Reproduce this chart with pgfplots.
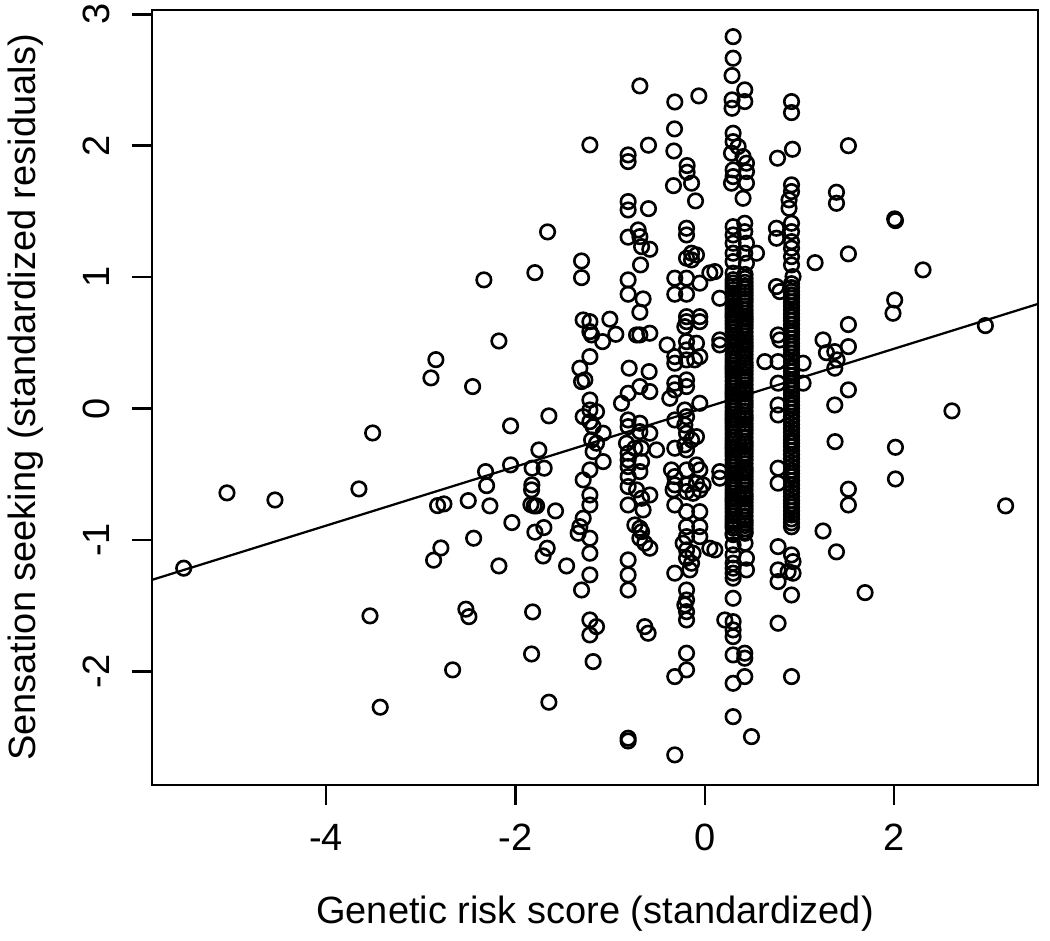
\documentclass[border=0pt]{standalone}
\usepackage{fontspec}
\setmainfont{Liberation Sans}
\usepackage{pgfplots}
\usepackage{pgfplotstable}
\pgfplotsset{compat=1.18}
\pgfplotstableread{
x y
-1.661 1.344
-1.795 1.034
-2.334 0.979
-2.175 0.514
-2.841 0.372
-2.893 0.233
-2.453 0.167
-1.647 -0.056
-2.052 -0.132
-3.509 -0.186
-1.753 -0.315
-2.052 -0.429
-2.316 -0.480
-1.824 -0.454
-1.697 -0.454
-2.305 -0.587
-1.827 -0.581
-1.830 -0.619
-5.048 -0.642
-4.541 -0.696
-3.654 -0.612
-2.823 -0.739
-2.756 -0.726
-2.499 -0.701
-2.270 -0.741
-1.837 -0.731
-1.803 -0.741
-1.777 -0.741
-1.577 -0.779
-2.038 -0.868
-1.700 -0.906
-1.795 -0.941
-2.442 -0.987
-2.788 -1.061
-1.665 -1.063
-1.708 -1.122
-2.865 -1.154
-2.175 -1.198
-1.460 -1.198
-5.505 -1.215
-3.537 -1.578
-2.524 -1.527
-2.492 -1.584
-1.819 -1.548
-1.830 -1.868
-2.664 -1.989
-1.647 -2.235
-3.429 -2.273
1.517 2.000
1.391 1.646
1.391 1.562
2.006 1.443
2.014 1.430
1.165 1.110
1.517 1.177
2.305 1.055
2.006 0.826
1.988 0.725
1.517 0.639
1.249 0.522
1.517 0.471
1.285 0.425
1.373 0.433
1.397 0.370
1.373 0.307
2.964 0.631
1.517 0.142
1.373 0.027
2.611 -0.018
1.376 -0.252
2.014 -0.295
2.014 -0.536
1.517 -0.614
1.517 -0.734
3.178 -0.741
1.249 -0.932
1.391 -1.091
1.693 -1.401
-0.686 2.455
-0.317 2.333
-0.063 2.379
-0.320 2.128
-1.214 2.006
-0.810 1.930
-0.810 1.879
-0.595 2.004
-0.327 1.960
-0.187 1.849
-0.187 1.798
-0.140 1.715
-0.331 1.696
-0.098 1.580
-0.810 1.575
-0.810 1.511
-0.595 1.521
-0.704 1.359
-0.686 1.308
-0.810 1.304
-0.668 1.232
-0.581 1.212
-0.193 1.372
-0.193 1.321
-0.140 1.182
-0.088 1.169
-0.193 1.144
-0.140 1.131
-1.302 1.123
-1.302 0.996
-0.679 1.093
-0.810 0.979
-0.810 0.870
-0.652 0.834
-0.686 0.733
-0.317 0.992
-0.193 0.992
-0.053 0.954
-0.317 0.870
-0.193 0.870
-1.285 0.674
-1.214 0.661
-1.214 0.585
-1.196 0.560
-1.003 0.680
-0.940 0.565
-1.080 0.509
-0.721 0.560
-0.686 0.560
-0.581 0.573
-0.193 0.699
-0.193 0.661
-0.053 0.699
-0.053 0.661
-0.211 0.623
-0.398 0.484
-0.193 0.509
-0.193 0.446
-0.088 0.497
-0.317 0.395
-0.193 0.370
-0.106 0.370
-0.317 0.345
-0.053 0.395
-1.214 0.395
-1.320 0.307
-1.302 0.205
-1.267 0.218
-0.799 0.307
-0.588 0.281
-0.810 0.116
-0.686 0.167
-0.581 0.129
-0.317 0.193
-0.193 0.218
-0.193 0.167
-0.317 0.142
-1.214 0.065
0.053 1.032
-0.880 0.040
-0.370 0.078
-0.053 0.040
-1.214 -0.011
-1.144 -0.024
-1.285 -0.062
-1.214 -0.100
-1.180 -0.138
-1.074 -0.188
-1.196 -0.239
-1.144 -0.264
-1.180 -0.328
-1.074 -0.404
-1.214 -0.467
-1.285 -0.543
-0.810 -0.087
-0.810 -0.138
-0.686 -0.112
-0.686 -0.176
-0.581 -0.188
-0.827 -0.264
-0.810 -0.340
-0.810 -0.391
-0.739 -0.302
-0.668 -0.302
-0.510 -0.315
-0.810 -0.442
-0.810 -0.518
-0.668 -0.404
-0.686 -0.480
-0.810 -0.594
-0.721 -0.619
-0.581 -0.658
-0.668 -0.683
-0.652 -0.772
-0.810 -0.734
-0.739 -0.886
-0.686 -0.911
-0.686 -0.987
-0.634 -1.025
-0.581 -1.063
-0.668 -0.937
-0.317 -0.087
-0.211 -0.011
-0.193 -0.062
-0.211 -0.125
-0.193 -0.188
-0.140 -0.239
-0.088 -0.214
-0.317 -0.302
-0.193 -0.315
-0.211 -0.277
-0.352 -0.467
-0.317 -0.518
-0.193 -0.467
-0.088 -0.429
-0.053 -0.467
-0.317 -0.581
-0.193 -0.581
-0.088 -0.568
-0.018 -0.581
-0.335 -0.619
-0.193 -0.632
-0.124 -0.645
-0.053 -0.619
-0.317 -0.734
-0.193 -0.785
-0.053 -0.785
-0.193 -0.899
-0.053 -0.899
-0.193 -0.975
-0.053 -0.975
-0.229 -1.025
-0.193 -1.076
-0.124 -1.101
-0.193 -1.139
-0.140 -1.177
-0.158 -1.228
-0.317 -1.253
0.053 -1.063
-1.214 -0.658
-1.214 -0.734
-1.285 -0.835
-1.320 -0.899
-1.338 -0.949
-1.214 -0.987
-1.214 -1.101
-1.214 -1.266
-1.302 -1.381
-0.810 -1.152
-0.810 -1.266
-0.810 -1.381
-0.193 -1.381
-0.193 -1.457
-0.211 -1.495
-0.193 -1.546
-0.193 -1.609
-1.214 -1.609
-1.144 -1.660
-1.214 -1.723
-0.634 -1.660
-0.599 -1.710
-1.180 -1.926
-0.193 -1.862
-0.193 -1.989
-0.317 -2.040
-0.810 -2.509
-0.810 -2.530
-0.317 -2.636
0.299 2.830
0.299 2.666
0.288 2.534
0.422 2.425
0.422 2.336
0.288 2.349
0.288 2.285
0.916 2.336
0.916 2.252
0.299 2.095
0.299 2.031
0.352 1.993
0.282 1.943
0.404 1.917
0.440 1.867
0.299 1.816
0.299 1.765
0.282 1.715
0.440 1.803
0.440 1.715
0.404 1.600
0.768 1.905
0.926 1.973
0.916 1.702
0.916 1.651
0.890 1.588
0.890 1.524
0.299 1.384
0.299 1.321
0.299 1.258
0.422 1.410
0.422 1.346
0.440 1.258
0.299 1.182
0.422 1.182
0.299 1.118
0.440 1.106
0.546 1.182
0.106 1.042
0.299 1.030
0.757 1.372
0.757 1.296
0.916 1.410
0.916 1.346
0.916 1.270
0.916 1.220
0.916 1.156
0.916 1.093
0.932 1.004
0.158 0.839
0.158 0.522
0.158 0.484
0.634 0.357
0.774 0.357
1.038 0.345
0.774 0.193
1.038 0.193
0.774 0.027
0.774 -0.049
0.757 0.928
0.792 0.890
0.774 0.560
0.792 0.522
0.158 -0.480
0.158 -0.530
0.774 -0.454
0.774 -0.568
0.299 0.98
0.299 0.93
0.299 0.88
0.299 0.84
0.299 0.78
0.299 0.73
0.299 0.69
0.299 0.64
0.299 0.58
0.299 0.53
0.299 0.49
0.299 0.44
0.299 0.38
0.299 0.33
0.299 0.29
0.299 0.24
0.299 0.18
0.299 0.13
0.299 0.09
0.299 0.04
0.299 -0.02
0.299 -0.07
0.299 -0.11
0.299 -0.16
0.299 -0.22
0.299 -0.27
0.299 -0.31
0.299 -0.36
0.299 -0.42
0.299 -0.47
0.299 -0.51
0.299 -0.56
0.299 -0.62
0.299 -0.67
0.299 -0.71
0.299 -0.76
0.299 -0.82
0.299 -0.87
0.299 -0.91
0.299 -0.96
0.299 0.955
0.299 0.905
0.299 0.86
0.299 0.81
0.299 0.755
0.299 0.71
0.299 0.665
0.299 0.61
0.299 0.555
0.299 0.51
0.299 0.465
0.299 0.41
0.299 0.355
0.299 0.31
0.299 0.265
0.299 0.21
0.299 0.155
0.299 0.11
0.299 0.065
0.299 0.01
0.299 -0.045
0.299 -0.09
0.299 -0.135
0.299 -0.19
0.299 -0.245
0.299 -0.29
0.299 -0.335
0.299 -0.39
0.299 -0.445
0.299 -0.49
0.299 -0.535
0.299 -0.59
0.299 -0.645
0.299 -0.69
0.299 -0.735
0.299 -0.79
0.299 -0.845
0.299 -0.89
0.425 1.02
0.425 0.96
0.425 0.91
0.425 0.86
0.425 0.81
0.425 0.75
0.425 0.70
0.425 0.66
0.425 0.61
0.425 0.55
0.425 0.50
0.425 0.46
0.425 0.41
0.425 0.35
0.425 0.31
0.425 0.26
0.425 0.21
0.425 0.15
0.425 0.11
0.425 0.06
0.425 0.01
0.425 -0.05
0.425 -0.09
0.425 -0.14
0.425 -0.19
0.425 -0.25
0.425 -0.29
0.425 -0.34
0.425 -0.39
0.425 -0.45
0.425 -0.49
0.425 -0.54
0.425 -0.59
0.425 -0.65
0.425 -0.69
0.425 -0.74
0.425 -0.79
0.425 -0.85
0.425 -0.89
0.425 -0.94
0.425 0.99
0.425 0.935
0.425 0.885
0.425 0.835
0.425 0.78
0.425 0.725
0.425 0.68
0.425 0.635
0.425 0.58
0.425 0.525
0.425 0.48
0.425 0.435
0.425 0.38
0.425 0.33
0.425 0.285
0.425 0.235
0.425 0.18
0.425 0.13
0.425 0.085
0.425 0.035
0.425 -0.02
0.425 -0.07
0.425 -0.115
0.425 -0.165
0.425 -0.22
0.425 -0.27
0.425 -0.315
0.425 -0.365
0.425 -0.42
0.425 -0.47
0.425 -0.515
0.425 -0.565
0.425 -0.62
0.425 -0.67
0.425 -0.715
0.425 -0.765
0.425 -0.82
0.425 -0.87
0.425 -0.915
0.299 -0.949
0.425 -0.949
0.299 -1.038
0.425 -1.025
0.299 -1.114
0.440 -1.139
0.299 -1.177
0.299 -1.215
0.299 -1.253
0.299 -1.291
0.440 -1.228
0.106 -1.076
0.299 -1.444
0.211 -1.609
0.299 -1.622
0.299 -1.685
0.299 -1.736
0.299 -1.875
0.422 -1.862
0.422 -1.900
0.422 -2.040
0.299 -2.091
0.299 -2.345
0.493 -2.497
0.916 0.95
0.916 0.89
0.916 0.84
0.916 0.78
0.916 0.72
0.916 0.67
0.916 0.61
0.916 0.56
0.916 0.50
0.916 0.45
0.916 0.39
0.916 0.33
0.916 0.28
0.916 0.22
0.916 0.17
0.916 0.11
0.916 0.05
0.916 0.00
0.916 -0.06
0.916 -0.12
0.916 -0.18
0.916 -0.24
0.916 -0.29
0.916 -0.35
0.916 -0.41
0.916 -0.47
0.916 -0.52
0.916 -0.58
0.916 -0.64
0.916 -0.70
0.916 -0.75
0.916 -0.81
0.916 -0.87
0.916 0.92
0.916 0.865
0.916 0.81
0.916 0.75
0.916 0.695
0.916 0.64
0.916 0.585
0.916 0.53
0.916 0.475
0.916 0.42
0.916 0.36
0.916 0.305
0.916 0.25
0.916 0.195
0.916 0.14
0.916 0.08
0.916 0.025
0.916 -0.03
0.916 -0.09
0.916 -0.15
0.916 -0.21
0.916 -0.265
0.916 -0.32
0.916 -0.38
0.916 -0.44
0.916 -0.495
0.916 -0.55
0.916 -0.61
0.916 -0.67
0.916 -0.725
0.916 -0.78
0.916 -0.84
0.916 -0.90
0.774 -1.051
0.916 -1.114
0.932 -1.165
0.774 -1.228
0.774 -1.317
0.880 -1.241
0.932 -1.253
0.916 -1.419
0.774 -1.634
0.916 -2.040
}\pts
\begin{document}
\fontsize{15.2}{18}\selectfont
\begin{tikzpicture}
\useasboundingbox (-60.8pt,-62.4pt) rectangle (359.2pt,314pt);
\begin{axis}[
  at={(0pt,0pt)}, anchor=south west,
  scale only axis, width=354.4pt, height=310pt,
  xmin=-5.84, xmax=3.52, ymin=-2.865, ymax=3.033,
  axis line style={line width=1pt},
  xtick={-4,-2,0,2}, xticklabels={-4,-2,0,2},
  ytick={-2,-1,0,1,2,3}, yticklabels={-2,-1,0,1,2,3},
  tick align=outside, tick pos=left,
  major tick length=8pt,
  every tick/.style={line width=1pt, black},
  xticklabel style={anchor=center, inner sep=0pt, yshift=-12.8pt},
  yticklabel style={xshift=-14.2pt, rotate=90, anchor=center, inner sep=0pt},
  xlabel={Genetic risk score (standardized)},
  ylabel={Sensation seeking (standardized residuals)},
  xlabel style={at={(axis description cs:0.5,-0.17935)}, anchor=base, inner sep=0pt},
  ylabel style={at={(axis description cs:-0.13205,0.5)}, anchor=base, inner sep=0pt},
  clip=false,
]
\addplot[only marks, mark=o, mark size=2.9pt, mark options={line width=1.05pt, black}] table {\pts};
\addplot[line width=0.9pt, black] coordinates {(-5.84,-1.304) (3.52,0.796)};
\end{axis}
\end{tikzpicture}
\end{document}
